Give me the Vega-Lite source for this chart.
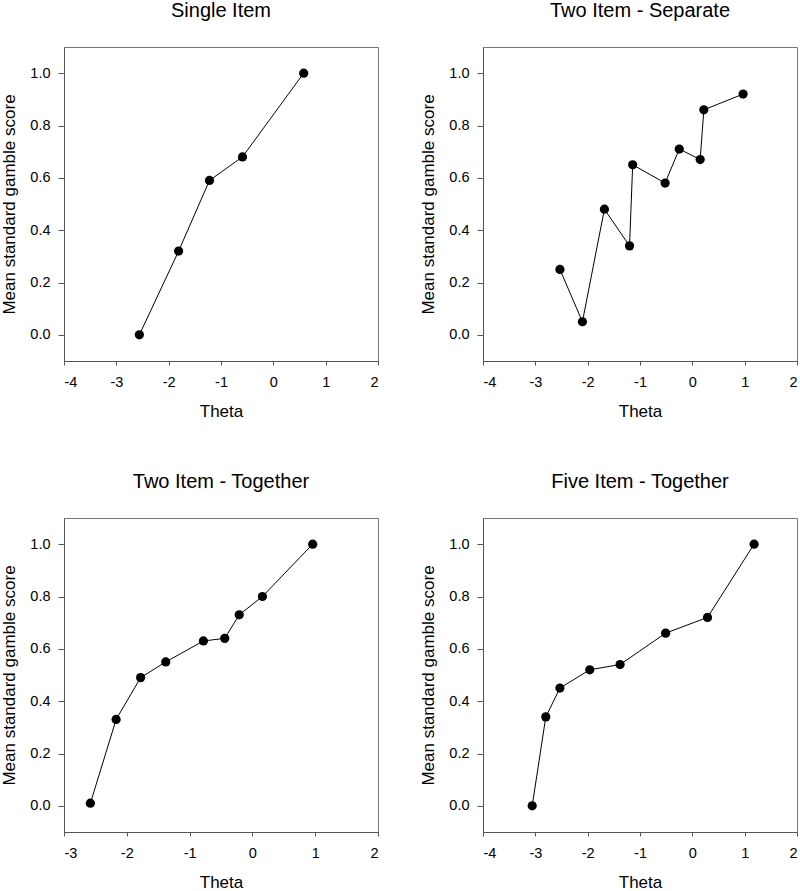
{
  "$schema": "https://vega.github.io/schema/vega-lite/v6.json",
  "padding": {"left": 0, "top": 0, "right": 0, "bottom": 0},
  "background": "white",
  "datasets": {
    "single": [
      {"theta": -2.56, "score": 0.0},
      {"theta": -1.81, "score": 0.32},
      {"theta": -1.22, "score": 0.59},
      {"theta": -0.59, "score": 0.68},
      {"theta": 0.58, "score": 1.0}
    ],
    "separate": [
      {"theta": -2.53, "score": 0.25},
      {"theta": -2.10, "score": 0.05},
      {"theta": -1.68, "score": 0.48},
      {"theta": -1.20, "score": 0.34},
      {"theta": -1.14, "score": 0.65},
      {"theta": -0.52, "score": 0.58},
      {"theta": -0.25, "score": 0.71},
      {"theta": 0.15, "score": 0.67},
      {"theta": 0.22, "score": 0.86},
      {"theta": 0.97, "score": 0.92}
    ],
    "together2": [
      {"theta": -2.58, "score": 0.01},
      {"theta": -2.17, "score": 0.33},
      {"theta": -1.78, "score": 0.49},
      {"theta": -1.38, "score": 0.55},
      {"theta": -0.78, "score": 0.63},
      {"theta": -0.44, "score": 0.64},
      {"theta": -0.21, "score": 0.73},
      {"theta": 0.16, "score": 0.80},
      {"theta": 0.96, "score": 1.0}
    ],
    "together5": [
      {"theta": -3.06, "score": 0.0},
      {"theta": -2.80, "score": 0.34},
      {"theta": -2.53, "score": 0.45},
      {"theta": -1.96, "score": 0.52},
      {"theta": -1.38, "score": 0.54},
      {"theta": -0.51, "score": 0.66},
      {"theta": 0.29, "score": 0.72},
      {"theta": 1.18, "score": 1.0}
    ]
  },
  "config": {
    "view": {"stroke": "#777777", "strokeWidth": 1},
    "axis": {
      "grid": false,
      "domainColor": "#555555",
      "tickColor": "#555555",
      "labelColor": "black",
      "titleColor": "black",
      "labelFont": "Liberation Sans",
      "titleFont": "Liberation Sans",
      "labelFontSize": 14.5,
      "titleFontSize": 17,
      "titleFontWeight": "normal"
    },
    "axisX": {"tickSize": 4, "labelPadding": 10, "titlePadding": 15},
    "axisY": {"tickSize": 6, "labelPadding": 8, "titlePadding": 11},
    "title": {
      "font": "Liberation Sans",
      "fontSize": 20,
      "fontWeight": "normal",
      "baseline": "alphabetic",
      "offset": 26,
      "anchor": "middle",
      "color": "black"
    }
  },
  "columns": 2,
  "spacing": {"row": 157, "column": 105},
  "bounds": "flush",
  "concat": [
    {
      "title": "Single Item",
      "width": 314,
      "height": 314,
      "data": {"name": "single"},
      "encoding": {
        "x": {"field": "theta", "type": "quantitative", "scale": {"domain": [-4, 2], "nice": false, "zero": false},
              "axis": {"values": [-4, -3, -2, -1, 0, 1, 2], "title": "Theta", "labelExpr": "datum.value < 0 ? '-' + abs(datum.value) : '' + datum.value"}},
        "y": {"field": "score", "type": "quantitative", "scale": {"domain": [-0.1, 1.1], "nice": false, "zero": false},
              "axis": {"values": [0, 0.2, 0.4, 0.6, 0.8, 1.0], "format": ".1f", "title": "Mean standard gamble score"}}
      },
      "layer": [
        {"mark": {"type": "line", "color": "black", "strokeWidth": 1}},
        {"mark": {"type": "point", "filled": true, "color": "black", "size": 85, "opacity": 1}}
      ]
    },
    {
      "title": "Two Item - Separate",
      "width": 314,
      "height": 314,
      "data": {"name": "separate"},
      "encoding": {
        "x": {"field": "theta", "type": "quantitative", "scale": {"domain": [-4, 2], "nice": false, "zero": false},
              "axis": {"values": [-4, -3, -2, -1, 0, 1, 2], "title": "Theta", "labelExpr": "datum.value < 0 ? '-' + abs(datum.value) : '' + datum.value"}},
        "y": {"field": "score", "type": "quantitative", "scale": {"domain": [-0.1, 1.1], "nice": false, "zero": false},
              "axis": {"values": [0, 0.2, 0.4, 0.6, 0.8, 1.0], "format": ".1f", "title": "Mean standard gamble score"}}
      },
      "layer": [
        {"mark": {"type": "line", "color": "black", "strokeWidth": 1}},
        {"mark": {"type": "point", "filled": true, "color": "black", "size": 85, "opacity": 1}}
      ]
    },
    {
      "title": "Two Item - Together",
      "width": 314,
      "height": 314,
      "data": {"name": "together2"},
      "encoding": {
        "x": {"field": "theta", "type": "quantitative", "scale": {"domain": [-3, 2], "nice": false, "zero": false},
              "axis": {"values": [-3, -2, -1, 0, 1, 2], "title": "Theta", "labelExpr": "datum.value < 0 ? '-' + abs(datum.value) : '' + datum.value"}},
        "y": {"field": "score", "type": "quantitative", "scale": {"domain": [-0.1, 1.1], "nice": false, "zero": false},
              "axis": {"values": [0, 0.2, 0.4, 0.6, 0.8, 1.0], "format": ".1f", "title": "Mean standard gamble score"}}
      },
      "layer": [
        {"mark": {"type": "line", "color": "black", "strokeWidth": 1}},
        {"mark": {"type": "point", "filled": true, "color": "black", "size": 85, "opacity": 1}}
      ]
    },
    {
      "title": "Five Item - Together",
      "width": 314,
      "height": 314,
      "data": {"name": "together5"},
      "encoding": {
        "x": {"field": "theta", "type": "quantitative", "scale": {"domain": [-4, 2], "nice": false, "zero": false},
              "axis": {"values": [-4, -3, -2, -1, 0, 1, 2], "title": "Theta", "labelExpr": "datum.value < 0 ? '-' + abs(datum.value) : '' + datum.value"}},
        "y": {"field": "score", "type": "quantitative", "scale": {"domain": [-0.1, 1.1], "nice": false, "zero": false},
              "axis": {"values": [0, 0.2, 0.4, 0.6, 0.8, 1.0], "format": ".1f", "title": "Mean standard gamble score"}}
      },
      "layer": [
        {"mark": {"type": "line", "color": "black", "strokeWidth": 1}},
        {"mark": {"type": "point", "filled": true, "color": "black", "size": 85, "opacity": 1}}
      ]
    }
  ]
}
